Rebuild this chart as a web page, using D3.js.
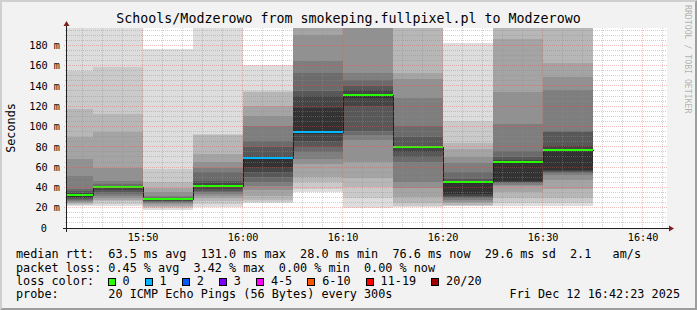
<!DOCTYPE html>
<html>
<head>
<meta charset="utf-8">
<script src="https://d3js.org/d3.v7.min.js"></script>
<style>
  html, body { margin: 0; padding: 0; background: #f2f2f2; }
  svg { display: block; }
  text { font-family: "DejaVu Sans Mono", monospace; white-space: pre; }
</style>
</head>
<body>
<div id="chart"></div>
<script>
const title = "Schools/Modzerowo from smokeping.fullpixel.pl to Modzerowo";
const day = "2025-12-12";
const graphStart = "15:42:26";
const graphEnd = "16:42:26";

// one 5 minute step per block, labelled by its end time
const blockEnds = ["15:45", "15:50", "15:55", "16:00", "16:05", "16:10",
                   "16:15", "16:20", "16:25", "16:30", "16:35"];
const medians = [32.0, 39.5, 28.0, 41.0, 68.5, 94.0, 131.0, 79.3, 44.9, 64.6, 76.6];
const lossCounts = [0, 0, 0, 0, 1, 1, 0, 0, 0, 0, 0];

// 20 sorted ping times (ms) per block
const pings = [
  [22, 23, 24, 25, 26, 27, 28, 29, 30, 31, 32.5, 34, 36, 38, 51, 68, 90, 117, 155, 215],
  [22, 24, 26.9, 28, 30, 31.8, 33, 35, 37, 39, 39.8, 40.5, 41.5, 43, 46, 59, 95, 112, 159, 220],
  [17.7, 19.5, 21, 22, 23.5, 24.5, 25.5, 26.3, 27, 27.7, 28.3, 28.8, 29.5, 30.5, 32, 35, 39, 45.6, 58, 176.5],
  [20.5, 24, 27, 30, 31.5, 33, 35, 36, 38, 40, 42.2, 44, 46.5, 54.7, 59, 64.6, 73, 92, 93, 210],
  [24.6, 26, 28, 31.8, 37, 41.6, 45, 49.8, 55, 60, 69.5, 71.1, 79.3, 85.9, 100.7, 110.5, 120.3, 134, 135, 160.5],
  [35, 38.4, 45, 50, 63, 68, 75, 80, 86, 93, 118, 130, 135, 153, 164.6, 190, 200, 210, 220, 230],
  [20, 30, 40, 49, 65, 87, 92, 96, 120, 128, 132, 136, 140, 146, 153, 205, 215, 225, 235, 250],
  [20.3, 22, 25, 30.1, 39, 44.9, 64.6, 69.5, 74.4, 78.5, 80, 81, 89.2, 100.7, 128.5, 146.6, 153, 205, 215, 225],
  [21.3, 22, 22.9, 24.5, 26, 27.8, 29.5, 30.5, 31.8, 33, 45.5, 46.5, 48, 55, 64, 70, 78, 83.6, 105, 182],
  [21.5, 25, 29.5, 35, 41, 42, 44, 45, 45.5, 46, 65, 66.5, 69.5, 76, 102, 134, 186, 200, 215, 230],
  [21.5, 25, 29.5, 38, 47.5, 52.4, 54, 55, 56, 57.4, 78, 81, 95, 96, 136, 149, 163, 200, 215, 230]
];

const lossLabels = ["0", "1", "2", "3", "4-5", "6-10", "11-19", "20/20"];
const lossColors = ["#26ff00", "#00b8ff", "#0059ff", "#7e00ff", "#ff00ff", "#ff5500", "#ff0000", "#a10000"];
const lossUpper = [0, 1, 2, 3, 5, 10, 19, 20];

const majorTicks = ["15:50", "16:00", "16:10", "16:20", "16:30", "16:40"];
const yTicks = [0, 20, 40, 60, 80, 100, 120, 140, 160, 180];

const rttLine = "median rtt:  63.5 ms avg  131.0 ms max  28.0 ms min  76.6 ms now  29.6 ms sd  2.1   am/s";
const lossLine = "packet loss: 0.45 % avg  3.42 % max  0.00 % min  0.00 % now";
const probeLine = "probe:       20 ICMP Echo Pings (56 Bytes) every 300s";
const stamp = "Fri Dec 12 16:42:23 2025";

const W = 697, H = 310;
const plot = { left: 67, top: 28, width: 600, height: 200 };
const yMax = 197;
const charW = 7.1;

const parseT = d3.timeParse("%Y-%m-%d %H:%M:%S");
const t = s => parseT(`${day} ${s.length === 5 ? s + ":00" : s}`);

const svg = d3.select("#chart").append("svg")
  .attr("width", W)
  .attr("height", H);

// background with the 3d border
svg.append("rect").attr("width", W).attr("height", H).attr("fill", "#f2f2f2");
svg.append("path")
  .attr("d", `M0,${H} L2,${H - 2} L2,2 L${W - 2},2 L${W},0 L0,0 Z`)
  .attr("fill", "#cfcfcf");
svg.append("path")
  .attr("d", `M2,${H - 2} L${W - 2},${H - 2} L${W - 2},2 L${W},0 L${W},${H} L0,${H} Z`)
  .attr("fill", "#9e9e9e");

const xScale = d3.scaleTime()
  .domain([t(graphStart), t(graphEnd)])
  .range([plot.left, plot.left + plot.width]);

const yScale = d3.scaleLinear()
  .domain([0, yMax])
  .range([plot.top + plot.height, plot.top]);

svg.append("defs").append("clipPath").attr("id", "clip")
  .append("rect")
  .attr("x", plot.left).attr("y", plot.top)
  .attr("width", plot.width).attr("height", plot.height);

svg.append("rect")
  .attr("x", plot.left).attr("y", plot.top)
  .attr("width", plot.width).attr("height", plot.height)
  .attr("fill", "#ffffff");

const blocks = blockEnds.map((e, i) => {
  const end = t(e);
  const start = new Date(+end - 300000);
  return {
    x0: Math.max(xScale(start), plot.left),
    x1: xScale(end),
    median: medians[i],
    loss: lossCounts[i],
    pings: pings[i]
  };
});

// smoke: outer bands first, darker inner bands on top
const smoke = svg.append("g").attr("clip-path", "url(#clip)").attr("shape-rendering", "crispEdges");
blocks.forEach(b => {
  for (let i = 1; i <= 10; i++) {
    const lo = b.pings[i - 1], hi = b.pings[20 - i];
    const g = Math.floor(190 / 10 * (10 - i)) + 50;
    smoke.append("rect")
      .attr("x", b.x0)
      .attr("width", b.x1 - b.x0)
      .attr("y", yScale(hi))
      .attr("height", yScale(lo) - yScale(hi))
      .attr("fill", d3.rgb(g, g, g));
  }
});

// median step line
const stepPts = blocks.map(b => [b.x0, b.median]);
stepPts.push([blocks[blocks.length - 1].x1, blocks[blocks.length - 1].median]);
svg.append("path")
  .attr("clip-path", "url(#clip)")
  .attr("d", d3.line().x(d => Math.round(d[0]) + 0.5).y(d => Math.floor(yScale(d[1])) + 0.5)
    .curve(d3.curveStepAfter)(stepPts))
  .attr("fill", "none")
  .attr("stroke", "#202020")
  .attr("stroke-width", 1)
  .attr("shape-rendering", "crispEdges");

// loss coloured median marks
svg.append("g").attr("shape-rendering", "crispEdges")
  .selectAll("rect")
  .data(blocks)
  .join("rect")
  .attr("x", d => d.x0)
  .attr("width", d => d.x1 - d.x0)
  .attr("y", d => Math.floor(yScale(d.median)) - 1)
  .attr("height", 2)
  .attr("fill", d => lossColors[lossUpper.findIndex(u => d.loss <= u)]);

// grid on top of the graph
const grid = svg.append("g").attr("shape-rendering", "crispEdges");
const minorX = d3.timeMinute.every(2).range(t(graphStart), t(graphEnd));
const majorX = majorTicks.map(t);
const isMajorX = d => majorX.some(m => +m === +d);

grid.selectAll(".vminor")
  .data(minorX.filter(d => !isMajorX(d)))
  .join("line")
  .attr("class", "vminor")
  .attr("x1", d => Math.floor(xScale(d)) + 0.5)
  .attr("x2", d => Math.floor(xScale(d)) + 0.5)
  .attr("y1", plot.top)
  .attr("y2", plot.top + plot.height + 2)
  .attr("stroke", "#8f8f8f")
  .attr("stroke-opacity", 0.42)
  .attr("stroke-dasharray", "1,1");

const minorY = d3.range(5, yMax, 5).filter(v => v % 20 !== 0);
grid.selectAll(".hminor")
  .data(minorY)
  .join("line")
  .attr("class", "hminor")
  .attr("x1", plot.left - 2)
  .attr("x2", plot.left + plot.width)
  .attr("y1", d => Math.floor(yScale(d)) + 0.5)
  .attr("y2", d => Math.floor(yScale(d)) + 0.5)
  .attr("stroke", "#8f8f8f")
  .attr("stroke-opacity", 0.42)
  .attr("stroke-dasharray", "1,1");

grid.selectAll(".vmajor")
  .data(majorX)
  .join("line")
  .attr("class", "vmajor")
  .attr("x1", d => Math.floor(xScale(d)) + 0.5)
  .attr("x2", d => Math.floor(xScale(d)) + 0.5)
  .attr("y1", plot.top)
  .attr("y2", plot.top + plot.height + 3)
  .attr("stroke", "#de4f4f")
  .attr("stroke-opacity", 0.36)
  .attr("stroke-dasharray", "1,1");

grid.selectAll(".hmajor")
  .data(yTicks.filter(v => v > 0))
  .join("line")
  .attr("class", "hmajor")
  .attr("x1", plot.left - 3)
  .attr("x2", plot.left + plot.width)
  .attr("y1", d => Math.floor(yScale(d)) + 0.5)
  .attr("y2", d => Math.floor(yScale(d)) + 0.5)
  .attr("stroke", "#de4f4f")
  .attr("stroke-opacity", 0.36)
  .attr("stroke-dasharray", "1,1");

// axes lines and arrows
const x0 = plot.left - 0.5, y0 = plot.top + plot.height + 0.5;
svg.append("line")
  .attr("x1", plot.left - 4).attr("x2", plot.left + plot.width + 4)
  .attr("y1", y0).attr("y2", y0)
  .attr("stroke", "#1f1f1f").attr("shape-rendering", "crispEdges");
svg.append("line")
  .attr("x1", x0).attr("x2", x0)
  .attr("y1", plot.top + plot.height + 4).attr("y2", plot.top - 4)
  .attr("stroke", "#1f1f1f").attr("shape-rendering", "crispEdges");
const xr = plot.left + plot.width;
svg.append("path")
  .attr("d", `M${xr + 2},${y0 - 3} L${xr + 2},${y0 + 3} L${xr + 7},${y0} Z`)
  .attr("fill", "#801f1f");
svg.append("path")
  .attr("d", `M${x0 - 3},${plot.top - 2} L${x0 + 3},${plot.top - 2} L${x0},${plot.top - 7} Z`)
  .attr("fill", "#801f1f");

// tick labels
const xAxis = d3.axisBottom(xScale)
  .tickValues(majorX)
  .tickFormat(d3.timeFormat("%H:%M"))
  .tickSize(0)
  .tickPadding(6);
const gx = svg.append("g")
  .attr("transform", `translate(0,${plot.top + plot.height})`)
  .call(xAxis);
gx.select(".domain").remove();
gx.selectAll("text")
  .attr("font-family", "DejaVu Sans Mono")
  .attr("font-size", "10.2px")
  .attr("fill", "#000");

const yAxis = d3.axisLeft(yScale)
  .tickValues(yTicks)
  .tickFormat(d => d === 0 ? "0" : d + " m")
  .tickSize(0)
  .tickPadding(7);
const gy = svg.append("g")
  .attr("transform", `translate(${plot.left},0)`)
  .call(yAxis);
gy.select(".domain").remove();
gy.selectAll("text")
  .attr("font-family", "DejaVu Sans Mono")
  .attr("font-size", "10.2px")
  .attr("fill", "#000")
  .attr("x", d => d === 0 ? -20 : -7);

// title, unit label, watermark
svg.append("text")
  .attr("x", W / 2).attr("y", 23)
  .attr("text-anchor", "middle")
  .attr("font-size", "13.3px")
  .text(title);

svg.append("text")
  .attr("transform", `translate(15.3,${plot.top + plot.height / 2}) rotate(-90)`)
  .attr("text-anchor", "middle")
  .attr("font-size", "11.8px")
  .text("Seconds");

svg.append("text")
  .attr("transform", `translate(684.5,5) rotate(90)`)
  .attr("font-size", "8.2px")
  .attr("fill", "#000")
  .attr("fill-opacity", 0.3)
  .text("RRDTOOL / TOBI OETIKER");

// legend
const legendX = 16;
const legend = svg.append("g").attr("font-size", "11.8px");
legend.append("text").attr("x", legendX).attr("y", 258).text(rttLine);
legend.append("text").attr("x", legendX).attr("y", 271.5).text(lossLine);
legend.append("text").attr("x", legendX).attr("y", 285).text("loss color:");
legend.append("text").attr("x", legendX).attr("y", 298).text(probeLine);
legend.append("text").attr("x", 680).attr("y", 298).attr("text-anchor", "end").text(stamp);

let lx = legendX + 13 * charW - 0.8;
lossLabels.forEach((lab, i) => {
  legend.append("rect")
    .attr("x", Math.round(lx) + 0.5).attr("y", 278.5)
    .attr("width", 7).attr("height", 7)
    .attr("fill", lossColors[i])
    .attr("stroke", "#000")
    .attr("shape-rendering", "crispEdges");
  legend.append("text").attr("x", lx + 15).attr("y", 285).text(lab);
  lx = lx + 15 + lab.length * charW + 15;
});
</script>
</body>
</html>
